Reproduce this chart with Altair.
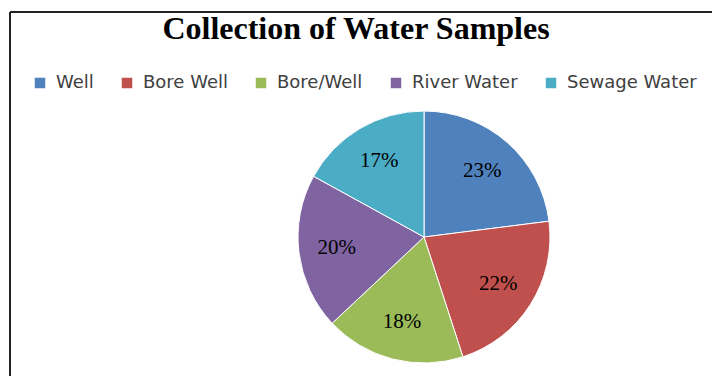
import altair as alt
import pandas as pd

categories = ["Well", "Bore Well", "Bore/Well", "River Water", "Sewage Water"]
values = [23, 22, 18, 20, 17]
labels = ["23%", "22%", "18%", "20%", "17%"]
colors = ["#4F81BD", "#C0504D", "#9BBB59", "#8064A2", "#4BACC6"]

df = pd.DataFrame({"cat": categories, "val": values, "lab": labels, "idx": list(range(len(categories)))})

CX, CY = 424, 237
R = 126

base = alt.Chart(df).encode(
    theta=alt.Theta("val:Q", stack=True),
    order=alt.Order("idx:Q"),
)

pie = base.mark_arc(stroke="white", strokeWidth=1).encode(
    x=alt.value(CX),
    y=alt.value(CY),
    radius=alt.value(R),
    color=alt.Color(
        "cat:N",
        scale=alt.Scale(domain=categories, range=colors),
        sort=None,
        legend=alt.Legend(
            title=None,
            orient="none",
            direction="horizontal",
            columns=5,
            legendX=31,
            legendY=74,
            symbolType="square",
            symbolSize=110,
            symbolStrokeWidth=0,
            symbolOpacity=1,
            labelFont="DejaVu Sans",
            labelFontSize=18,
            labelColor="#404040",
            labelOffset=7,
            columnPadding=24,
            padding=0,
        ),
    ),
)

text = base.mark_text(font="Liberation Serif", fontSize=21, color="black").encode(
    x=alt.value(CX),
    y=alt.value(CY),
    radius=alt.value(88),
    text="lab:N",
)

frame_top = alt.Chart(df).mark_rule(color="#222222", strokeWidth=2).encode(
    x=alt.value(10), x2=alt.value(712), y=alt.value(12)
)
frame_left = alt.Chart(df).mark_rule(color="#222222", strokeWidth=2).encode(
    x=alt.value(10), y=alt.value(12), y2=alt.value(376)
)

chart = alt.layer(pie, text, frame_top, frame_left).properties(
    width=712,
    height=376,
    autosize=alt.AutoSizeParams(type="none"),
    padding=0,
    title=alt.Title(
        "Collection of Water Samples",
        font="Liberation Serif",
        fontSize=32,
        fontWeight="bold",
        color="black",
        anchor="middle",
        frame="group",
        baseline="alphabetic",
        offset=-71,
    ),
).configure_view(stroke=None)

chart.save("out.html", embed_options={"renderer": "svg", "actions": False})
